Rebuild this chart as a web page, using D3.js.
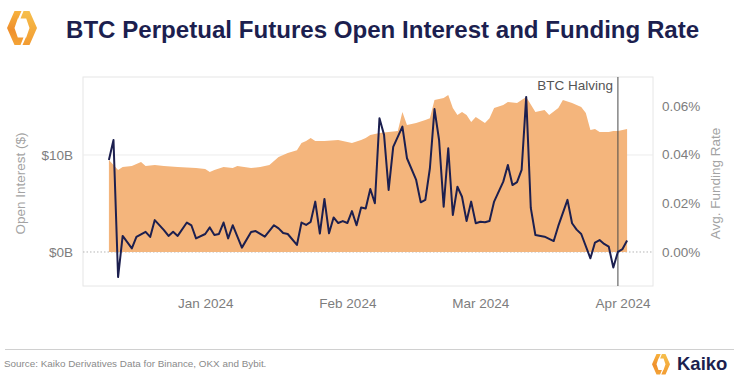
<!DOCTYPE html>
<html>
<head>
<meta charset="utf-8">
<script src="https://cdn.jsdelivr.net/npm/d3@7"></script>
<style>
	html, body { margin: 0; padding: 0; background: #fff; }
	svg { display: block; font-family: "Liberation Sans", Arial, Helvetica, sans-serif; }
</style>
</head>
<body>
<script>
// Open interest (USD billions)
const oiDates = [
	"2023-12-11", "2023-12-13", "2023-12-14", "2023-12-16", "2023-12-18", "2023-12-19", "2023-12-21",
	"2023-12-23", "2023-12-26", "2023-12-30", "2024-01-01", "2024-01-02", "2024-01-03", "2024-01-05",
	"2024-01-07", "2024-01-08", "2024-01-11", "2024-01-13", "2024-01-15", "2024-01-17", "2024-01-19",
	"2024-01-21", "2024-01-22", "2024-01-23", "2024-01-24", "2024-01-25", "2024-01-27", "2024-01-30",
	"2024-02-01", "2024-02-02", "2024-02-04", "2024-02-05", "2024-02-06", "2024-02-08", "2024-02-10",
	"2024-02-12", "2024-02-13", "2024-02-14", "2024-02-16", "2024-02-18", "2024-02-19", "2024-02-20",
	"2024-02-22", "2024-02-23", "2024-02-24", "2024-02-25", "2024-02-26", "2024-02-27", "2024-02-28",
	"2024-02-29", "2024-03-02", "2024-03-03", "2024-03-04", "2024-03-06", "2024-03-07", "2024-03-09",
	"2024-03-10", "2024-03-11", "2024-03-13", "2024-03-15", "2024-03-16", "2024-03-18", "2024-03-19",
	"2024-03-21", "2024-03-23", "2024-03-24", "2024-03-25", "2024-03-26", "2024-03-27", "2024-03-29",
	"2024-03-30", "2024-03-31", "2024-04-02"
];
const oiValues = [
	9.48, 8.45, 8.76, 8.87, 9.28, 8.87, 8.97,
	8.87, 8.76, 8.66, 8.56, 8.25, 8.45, 8.76,
	8.66, 8.87, 8.66, 8.76, 8.97, 9.79, 10.20,
	10.50, 11.24, 11.44, 11.75, 11.44, 11.44, 11.55,
	11.34, 11.24, 11.55, 11.75, 12.06, 12.27, 12.37,
	12.47, 14.43, 13.09, 13.30, 13.60, 13.80, 15.67,
	15.88, 16.19, 14.85, 14.12, 14.43, 14.12, 13.40,
	13.92, 13.30, 13.80, 14.85, 15.15, 15.46, 15.36,
	15.67, 15.98, 14.43, 14.64, 14.12, 14.85, 15.67,
	15.36, 14.95, 14.33, 12.58, 12.68, 12.37, 12.37,
	12.47, 12.47, 12.68
];

// Average funding rate (%)
const frDates = [
	"2023-12-11", "2023-12-12", "2023-12-13", "2023-12-14", "2023-12-16", "2023-12-17", "2023-12-19",
	"2023-12-20", "2023-12-21", "2023-12-23", "2023-12-24", "2023-12-25", "2023-12-26", "2023-12-28",
	"2023-12-29", "2023-12-30", "2024-01-01", "2024-01-02", "2024-01-03", "2024-01-04", "2024-01-05",
	"2024-01-06", "2024-01-07", "2024-01-09", "2024-01-11", "2024-01-12", "2024-01-14", "2024-01-16",
	"2024-01-17", "2024-01-18", "2024-01-19", "2024-01-21", "2024-01-22", "2024-01-23", "2024-01-24",
	"2024-01-25", "2024-01-26", "2024-01-27", "2024-01-28", "2024-01-29", "2024-01-30", "2024-01-31",
	"2024-02-01", "2024-02-02", "2024-02-03", "2024-02-04", "2024-02-05", "2024-02-06", "2024-02-07",
	"2024-02-08", "2024-02-09", "2024-02-10", "2024-02-11", "2024-02-13", "2024-02-14", "2024-02-16",
	"2024-02-17", "2024-02-18", "2024-02-19", "2024-02-20", "2024-02-21", "2024-02-22", "2024-02-23",
	"2024-02-24", "2024-02-25", "2024-02-26", "2024-02-27", "2024-02-28", "2024-02-29", "2024-03-01",
	"2024-03-02", "2024-03-03", "2024-03-04", "2024-03-06", "2024-03-07", "2024-03-08", "2024-03-09",
	"2024-03-10", "2024-03-11", "2024-03-12", "2024-03-13", "2024-03-15", "2024-03-17", "2024-03-18",
	"2024-03-20", "2024-03-21", "2024-03-22", "2024-03-23", "2024-03-25", "2024-03-26", "2024-03-27",
	"2024-03-28", "2024-03-29", "2024-03-30", "2024-03-31", "2024-04-01", "2024-04-02"
];
const frValues = [
	0.0378, 0.0460, -0.0103, 0.0066, 0.0015, 0.0062, 0.0083,
	0.0062, 0.0131, 0.0090, 0.0066, 0.0083, 0.0066, 0.0121,
	0.0109, 0.0056, 0.0074, 0.0101, 0.0070, 0.0074, 0.0121,
	0.0056, 0.0110, 0.0018, 0.0082, 0.0086, 0.0063, 0.0110,
	0.0097, 0.0078, 0.0074, 0.0029, 0.0121, 0.0111, 0.0124,
	0.0207, 0.0076, 0.0218, 0.0077, 0.0142, 0.0119, 0.0127,
	0.0119, 0.0168, 0.0110, 0.0183, 0.0179, 0.0259, 0.0200,
	0.0549, 0.0481, 0.0255, 0.0432, 0.0515, 0.0385, 0.0296,
	0.0204, 0.0214, 0.0344, 0.0587, 0.0460, 0.0186, 0.0426,
	0.0152, 0.0268, 0.0227, 0.0127, 0.0207, 0.0118, 0.0124,
	0.0122, 0.0127, 0.0207, 0.0289, 0.0357, 0.0275, 0.0287,
	0.0337, 0.0637, 0.0181, 0.0070, 0.0063, 0.0045, 0.0107,
	0.0214, 0.0118, 0.0092, 0.0074, -0.0026, 0.0039, 0.0049,
	0.0033, 0.0022, -0.0064, 0.0001, 0.0012, 0.0047
];

const xTickDates = ["2024-01-01", "2024-02-01", "2024-03-01", "2024-04-01"];
const oiTicks = [0, 10];
const frTicks = [0, 0.02, 0.04, 0.06];
const halvingDate = "2024-03-31";
const halvingLabel = "BTC Halving";

const parseDate = d3.timeParse("%Y-%m-%d");
const oiData = oiDates.map((d, i) => ({ date: parseDate(d), value: oiValues[i] }));
const frData = frDates.map((d, i) => ({ date: parseDate(d), value: frValues[i] }));

const W = 750, H = 375;
const plot = { left: 83, right: 653, top: 77, bottom: 286 };

const navy = "#1c1f4f";
const orange = "#f4b57c";
const tickGrey = "#7d7d7d";
const titleGrey = "#a3a3a3";

const svg = d3.select("body").append("svg")
	.attr("width", W)
	.attr("height", H);

// gradients for the logo
const defs = svg.append("defs");
const gl = defs.append("linearGradient").attr("id", "logoL").attr("x1", 0).attr("y1", 0).attr("x2", 0).attr("y2", 1);
gl.append("stop").attr("offset", "0%").attr("stop-color", "#f7b23e");
gl.append("stop").attr("offset", "55%").attr("stop-color", "#ef8f2c");
gl.append("stop").attr("offset", "100%").attr("stop-color", "#f4a437");
const gr = defs.append("linearGradient").attr("id", "logoR").attr("x1", 0).attr("y1", 0).attr("x2", 0).attr("y2", 1);
gr.append("stop").attr("offset", "0%").attr("stop-color", "#f6bf4c");
gr.append("stop").attr("offset", "100%").attr("stop-color", "#f29b31");

function drawLogo(g) {
	const left = [[7.5, 0], [14.5, 0], [11.2, 7.5], [10.8, 7.5], [7.5, 17], [10.8, 26.5], [16.5, 26.5], [13.5, 34], [7.5, 34], [0, 17]];
	const right = left.map(p => [30 - p[0], 34 - p[1]]);
	g.append("polygon").attr("points", left.map(p => p.join(",")).join(" ")).attr("fill", "url(#logoL)");
	g.append("polygon").attr("points", right.map(p => p.join(",")).join(" ")).attr("fill", "url(#logoR)");
}

drawLogo(svg.append("g").attr("transform", "translate(7,11)"));

svg.append("text")
	.attr("x", 66)
	.attr("y", 38)
	.attr("fill", navy)
	.style("font-size", "24.1px")
	.style("font-weight", "bold")
	.text("BTC Perpetual Futures Open Interest and Funding Rate");

// scales
const dateExtent = d3.extent(frData.concat(oiData), d => d.date);
const pad = (dateExtent[1] - dateExtent[0]) * 0.05;
const x = d3.scaleTime()
	.domain([new Date(+dateExtent[0] - pad), new Date(+dateExtent[1] + pad)])
	.range([plot.left, plot.right]);

const yOI = d3.scaleLinear()
	.domain([-3.505, 18.04])
	.range([plot.bottom, plot.top]);

const yFR = d3.scaleLinear()
	.domain([-0.01396, 0.07187])
	.range([plot.bottom, plot.top]);

// frame and grid
svg.append("rect")
	.attr("x", plot.left)
	.attr("y", plot.top)
	.attr("width", plot.right - plot.left)
	.attr("height", plot.bottom - plot.top)
	.attr("fill", "none")
	.attr("stroke", "#e6e6e6")
	.attr("stroke-width", 1);

svg.append("line")
	.attr("x1", plot.left).attr("x2", plot.right)
	.attr("y1", yOI(10)).attr("y2", yOI(10))
	.attr("stroke", "#ececec")
	.attr("stroke-width", 1);

svg.append("line")
	.attr("x1", plot.left).attr("x2", plot.right)
	.attr("y1", yOI(0)).attr("y2", yOI(0))
	.attr("stroke", "#b5b5b5")
	.attr("stroke-width", 1)
	.attr("stroke-dasharray", "1.5,2");

// open interest area
const area = d3.area()
	.x(d => x(d.date))
	.y0(yOI(0))
	.y1(d => yOI(d.value));

svg.append("path")
	.datum(oiData)
	.attr("d", area)
	.attr("fill", orange);

// halving marker
const hx = x(parseDate(halvingDate));
svg.append("line")
	.attr("x1", hx).attr("x2", hx)
	.attr("y1", plot.top).attr("y2", plot.bottom)
	.attr("stroke", "#4a4a4a")
	.attr("stroke-width", 1);

svg.append("text")
	.attr("x", hx - 5)
	.attr("y", 90)
	.attr("text-anchor", "end")
	.attr("fill", "#555")
	.style("font-size", "13.5px")
	.text(halvingLabel);

// funding rate line
const line = d3.line()
	.x(d => x(d.date))
	.y(d => yFR(d.value));

svg.append("path")
	.datum(frData)
	.attr("d", line)
	.attr("fill", "none")
	.attr("stroke", navy)
	.attr("stroke-width", 2)
	.attr("stroke-linejoin", "round");

// axes
const xAxis = svg.append("g")
	.attr("transform", `translate(0,${plot.bottom})`)
	.call(d3.axisBottom(x)
		.tickValues(xTickDates.map(parseDate))
		.tickFormat(d3.timeFormat("%b %Y"))
		.tickSize(0)
		.tickPadding(12));

const leftAxis = svg.append("g")
	.attr("transform", `translate(${plot.left},0)`)
	.call(d3.axisLeft(yOI)
		.tickValues(oiTicks)
		.tickFormat(d => `$${d}B`)
		.tickSize(0)
		.tickPadding(10));

const rightAxis = svg.append("g")
	.attr("transform", `translate(${plot.right},0)`)
	.call(d3.axisRight(yFR)
		.tickValues(frTicks)
		.tickFormat(d => `${d.toFixed(2)}%`)
		.tickSize(0)
		.tickPadding(9));

[xAxis, leftAxis, rightAxis].forEach(ax => {
	ax.select(".domain").remove();
	ax.selectAll("text")
		.attr("fill", tickGrey)
		.style("font-size", "13.5px")
		.style("font-family", "'Liberation Sans', Arial, sans-serif");
});

svg.append("text")
	.attr("transform", `translate(25,${(plot.top + plot.bottom) / 2 + 2}) rotate(-90)`)
	.attr("text-anchor", "middle")
	.attr("fill", titleGrey)
	.style("font-size", "13.5px")
	.text("Open Interest ($)");

svg.append("text")
	.attr("transform", `translate(720,${(plot.top + plot.bottom) / 2 + 2}) rotate(-90)`)
	.attr("text-anchor", "middle")
	.attr("fill", titleGrey)
	.style("font-size", "13.5px")
	.text("Avg. Funding Rate");

// footer
svg.append("line")
	.attr("x1", 5).attr("x2", 734)
	.attr("y1", 349.5).attr("y2", 349.5)
	.attr("stroke", "#d0d0d0")
	.attr("stroke-width", 1);

svg.append("text")
	.attr("x", 4)
	.attr("y", 367)
	.attr("fill", "#8a8a8a")
	.style("font-size", "9.9px")
	.text("Source: Kaiko Derivatives Data for Binance, OKX and Bybit.");

drawLogo(svg.append("g").attr("transform", "translate(652,354) scale(0.6)"));

svg.append("text")
	.attr("x", 677)
	.attr("y", 370)
	.attr("fill", navy)
	.style("font-size", "18.5px")
	.style("font-weight", "bold")
	.text("Kaiko");
</script>
</body>
</html>
